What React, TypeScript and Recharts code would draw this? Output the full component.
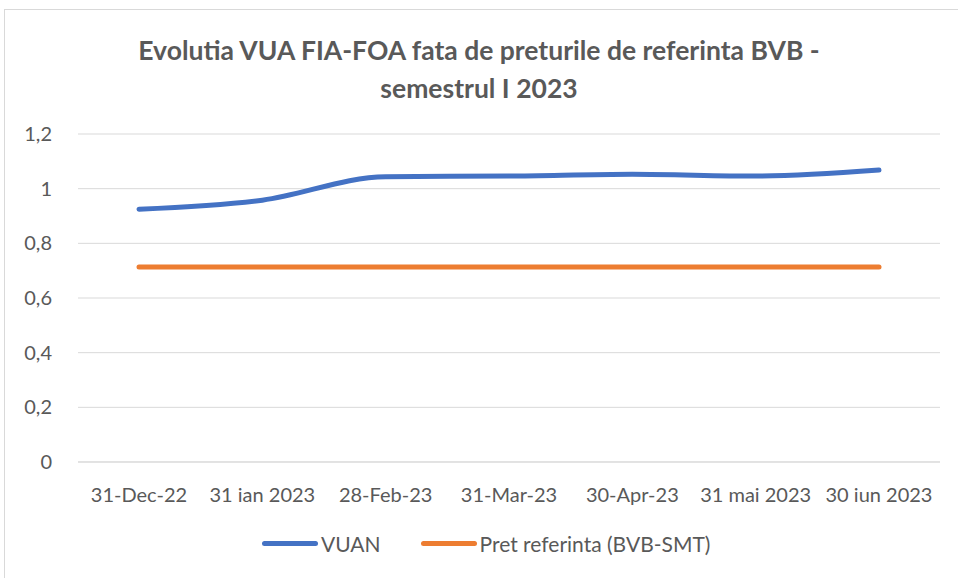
import React from "react"
import { LineChart, Line, XAxis, YAxis, CartesianGrid } from "recharts"

const categories = [
  "31-Dec-22",
  "31 ian 2023",
  "28-Feb-23",
  "31-Mar-23",
  "30-Apr-23",
  "31 mai 2023",
  "30 iun 2023"
]
const vuan = [0.925, 0.958, 1.044, 1.046, 1.053, 1.046, 1.068]
const pretReferinta = [0.713, 0.713, 0.713, 0.713, 0.713, 0.713, 0.713]
const yTicks = [0, 0.2, 0.4, 0.6, 0.8, 1, 1.2]

const data = categories.map((name, i) => ({
  name,
  vuan: vuan[i],
  pret: pretReferinta[i]
}))

const font = "Lato, 'Open Sans', sans-serif"
const textColor = "#595959"

const fmt = (v: number) => String(v).replace(".", ",")

const App = () => {
  return (
    <div style={{ position: "absolute", left: 0, top: 0, width: 958, height: 578, background: "#fff", fontFamily: font }}>
      <div
        style={{
          position: "absolute",
          left: 4,
          top: 9,
          width: 970,
          height: 600,
          border: "1px solid #d9d9d9",
          boxSizing: "border-box"
        }}
      />
      <div
        style={{
          position: "absolute",
          left: 0,
          top: 31,
          width: 958,
          textAlign: "center",
          fontSize: 26.5,
          fontWeight: 700,
          lineHeight: "38px",
          color: textColor
        }}>
        Evolutia VUA FIA-FOA fata de preturile de referinta BVB -
        <br />
        semestrul I 2023
      </div>
      <div style={{ position: "absolute", left: 0, top: 0 }}>
        <LineChart
          width={958}
          height={578}
          data={data}
          margin={{ top: 134, right: 18, bottom: 76, left: 0 }}>
          <CartesianGrid vertical={false} stroke="#d9d9d9" />
          <XAxis
            dataKey="name"
            height={40}
            tickLine={false}
            axisLine={{ stroke: "#d9d9d9" }}
            tickMargin={20}
            padding={{ left: 61, right: 61 }}
            tick={{ fill: textColor, fontSize: 20, fontFamily: font }}
            interval={0}
          />
          <YAxis
            width={78}
            domain={[0, 1.2]}
            ticks={yTicks}
            tickFormatter={fmt}
            axisLine={false}
            tickLine={false}
            tickMargin={20}
            tick={{ fill: textColor, fontSize: 20, fontFamily: font }}
          />
          <Line
            type="monotone"
            dataKey="vuan"
            stroke="#4472c4"
            strokeWidth={5}
            dot={false}
            strokeLinecap="round"
            isAnimationActive={false}
          />
          <Line
            type="monotone"
            dataKey="pret"
            stroke="#ed7d31"
            strokeWidth={5}
            dot={false}
            strokeLinecap="round"
            isAnimationActive={false}
          />
        </LineChart>
      </div>
      <div
        style={{
          position: "absolute",
          left: 262,
          top: 531,
          display: "flex",
          alignItems: "center",
          fontSize: 21,
          color: textColor
        }}>
        <span style={{ display: "inline-block", width: 56, height: 5, borderRadius: 3, background: "#4472c4", marginRight: 3 }} />
        <span style={{ marginRight: 40 }}>VUAN</span>
        <span style={{ display: "inline-block", width: 56, height: 5, borderRadius: 3, background: "#ed7d31", marginRight: 3 }} />
        <span>Pret referinta (BVB-SMT)</span>
      </div>
    </div>
  )
}

export default App
